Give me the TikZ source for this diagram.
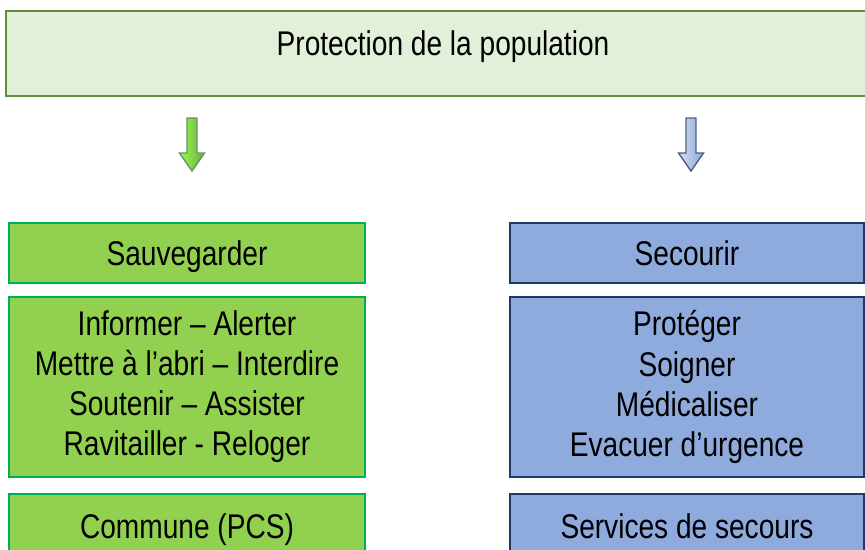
\documentclass[tikz,border=0pt]{standalone}
\usepackage{fontspec}
\setmainfont{Liberation Sans}
\newfontfamily\boxfont[FakeStretch=0.82,Ligatures=TeX]{Liberation Sans}
\definecolor{topfill}{HTML}{E2EFD9}
\definecolor{topline}{HTML}{5E8E3E}
\definecolor{greenfill}{HTML}{92D050}
\definecolor{greenline}{HTML}{00B050}
\definecolor{bluefill}{HTML}{8FAADC}
\definecolor{blueline}{HTML}{1F3864}
\newcommand{\blockdown}[2]{\draw[#2] (#1) ++(-5,0) -- ++(10,0) -- ++(0,35)
  -- ++(7.5,0) -- ++(-12.5,18) -- ++(-12.5,-18) -- ++(7.5,0) -- cycle;}
\begin{document}
\begin{tikzpicture}[x=0.02cm,y=-0.02cm,
  box/.style={draw,line width=1.1pt,inner sep=0pt,align=center,
    text height=14pt,text depth=0pt,
    font=\boxfont\fontsize{19.5pt}{22.8pt}\selectfont},
  listbox/.style={text height={},text depth={}},
  greenbox/.style={box,fill=greenfill,draw=greenline,minimum width=7.12cm},
  bluebox/.style={box,fill=bluefill,draw=blueline,minimum width=7.08cm},
  greenarrow/.style={line width=0.8pt,draw=green!30!black!60,
    left color=green!60!yellow!70,right color=greenfill!80!black},
  bluearrow/.style={line width=0.8pt,draw=blueline!80,
    left color=bluefill!40,right color=bluefill}]
  \clip (0,0) rectangle (865,549);
  \node[box,fill=topfill,draw=topline,minimum width=17.48cm,
    text height=0.88cm,text depth=0.82cm] (top) at (443,53.5)
    {Protection de la population};
  \node[greenbox,minimum height=1.2cm] (sauv) at (187,253) {Sauvegarder};
  \node[greenbox,listbox,minimum height=3.6cm] (sauvlist) at (187,387)
    {Informer – Alerter\\Mettre à l’abri – Interdire\\Soutenir – Assister\\Ravitailler - Reloger};
  \node[greenbox,minimum height=1.28cm] (commune) at (187,526) {Commune (PCS)};
  \node[bluebox,minimum height=1.2cm] (secour) at (687,253) {Secourir};
  \node[bluebox,listbox,minimum height=3.6cm] (secourlist) at (687,387)
    {Protéger\\Soigner\\Médicaliser\\Evacuer d’urgence};
  \node[bluebox,minimum height=1.28cm] (services) at (687,526) {Services de secours};
  \coordinate (sauvtip) at (192,118);
  \coordinate (secourtip) at (691,118);
  \blockdown{sauvtip}{greenarrow}
  \blockdown{secourtip}{bluearrow}
\end{tikzpicture}
\end{document}
